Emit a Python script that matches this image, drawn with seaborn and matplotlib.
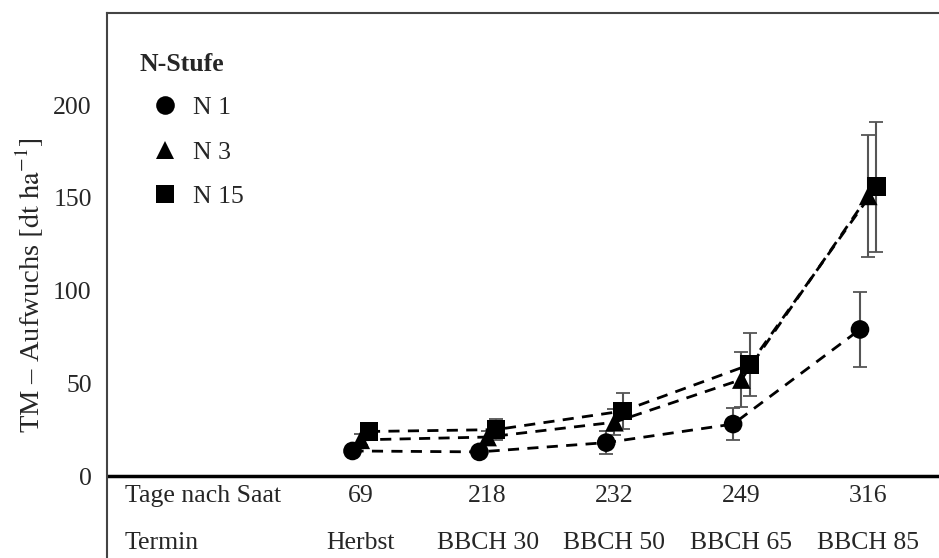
import numpy as np
import pandas as pd
import matplotlib
matplotlib.use("Agg")
import matplotlib.pyplot as plt
import seaborn as sns

# data
tage = ["69", "218", "232", "249", "316"]
termin = ["Herbst", "BBCH 30", "BBCH 50", "BBCH 65", "BBCH 85"]
stufen = ["N 1", "N 3", "N 15"]
n1_mean = [13.5, 13, 18, 28, 79]
n1_err = [2, 2, 6, 8.5, 20]
n3_mean = [19.5, 21, 29, 52, 151]
n3_err = [3, 3, 7, 15, 33]
n15_mean = [24, 25, 35, 60, 156]
n15_err = [4, 5.5, 9.5, 17, 35]

sns.set_style("white")
plt.rcParams['font.family'] = ['Liberation Serif', 'DejaVu Serif']
plt.rcParams['mathtext.fontset'] = 'stix'
fs = 18.5

offsets = {"N 1": -0.065, "N 3": 0.0, "N 15": 0.065}
means = {"N 1": n1_mean, "N 3": n3_mean, "N 15": n15_mean}
errs = {"N 1": n1_err, "N 3": n3_err, "N 15": n15_err}
rows = []
for s in stufen:
    for i in range(len(tage)):
        rows.append({"stufe": s, "x": i + offsets[s], "tm": means[s][i], "err": errs[s][i]})
df = pd.DataFrame(rows)

fig = plt.figure(figsize=(9.39, 5.58), dpi=100)
ax = fig.add_axes([107 / 939, 0.0, 0.95, 545 / 558])

# dashed connecting lines
sns.lineplot(data=df, x="x", y="tm", units="stufe", estimator=None, color="black",
             lw=2, legend=False, ax=ax, zorder=3)
for line in ax.get_lines():
    line.set_dashes((4, 3))

# error bars
ax.errorbar(df["x"], df["tm"], yerr=df["err"], fmt="none", ecolor="#555555",
            elinewidth=1.5, capsize=5, capthick=1.3, zorder=2)

sns.scatterplot(data=df, x="x", y="tm", style="stufe", style_order=stufen,
                markers={"N 1": "o", "N 3": "^", "N 15": "s"}, color="black",
                s=180, edgecolor="black", linewidth=0, ax=ax, zorder=4)

ax.set_xlim(-2.0, (939 * 1.07 - 362) / 127.75)
ax.set_ylim(-44.2, 249.6)
ax.set_yticks([0, 50, 100, 150, 200])
ax.tick_params(axis="y", labelsize=fs, length=8, width=1.5, color="black", pad=3)
ax.set_xticks([])
ax.set_xlabel("")
ax.set_ylabel(r"TM – Aufwuchs $\left[\mathrm{dt\ ha^{-1}}\right]$", fontsize=20.5, labelpad=5)

for side in ["top", "left"]:
    ax.spines[side].set_color("#444444")
    ax.spines[side].set_linewidth(1.5)
ax.spines["right"].set_visible(False)
ax.spines["bottom"].set_visible(False)
ax.axhline(0, color="black", lw=2.5, zorder=1)

# table rows below the zero line
ax.text(-1.86, -10.8, "Tage nach Saat", fontsize=fs, va="center", ha="left")
ax.text(-1.86, -36, "Termin", fontsize=fs, va="center", ha="left")
for i in range(len(tage)):
    ax.text(i, -10.8, tage[i], fontsize=fs, va="center", ha="center")
    ax.text(i, -36, termin[i], fontsize=fs, va="center", ha="center")

leg = ax.legend(title="N-Stufe", loc="upper left", bbox_to_anchor=(0.016, 0.959),
                frameon=False, fontsize=fs, title_fontsize=fs, labelspacing=0.85,
                handletextpad=0.1, borderpad=0.2, borderaxespad=0.5)
leg.get_title().set_fontweight("bold")
leg._legend_box.align = "left"
leg._legend_box.sep = 14

fig.savefig("out.png", dpi=100)
